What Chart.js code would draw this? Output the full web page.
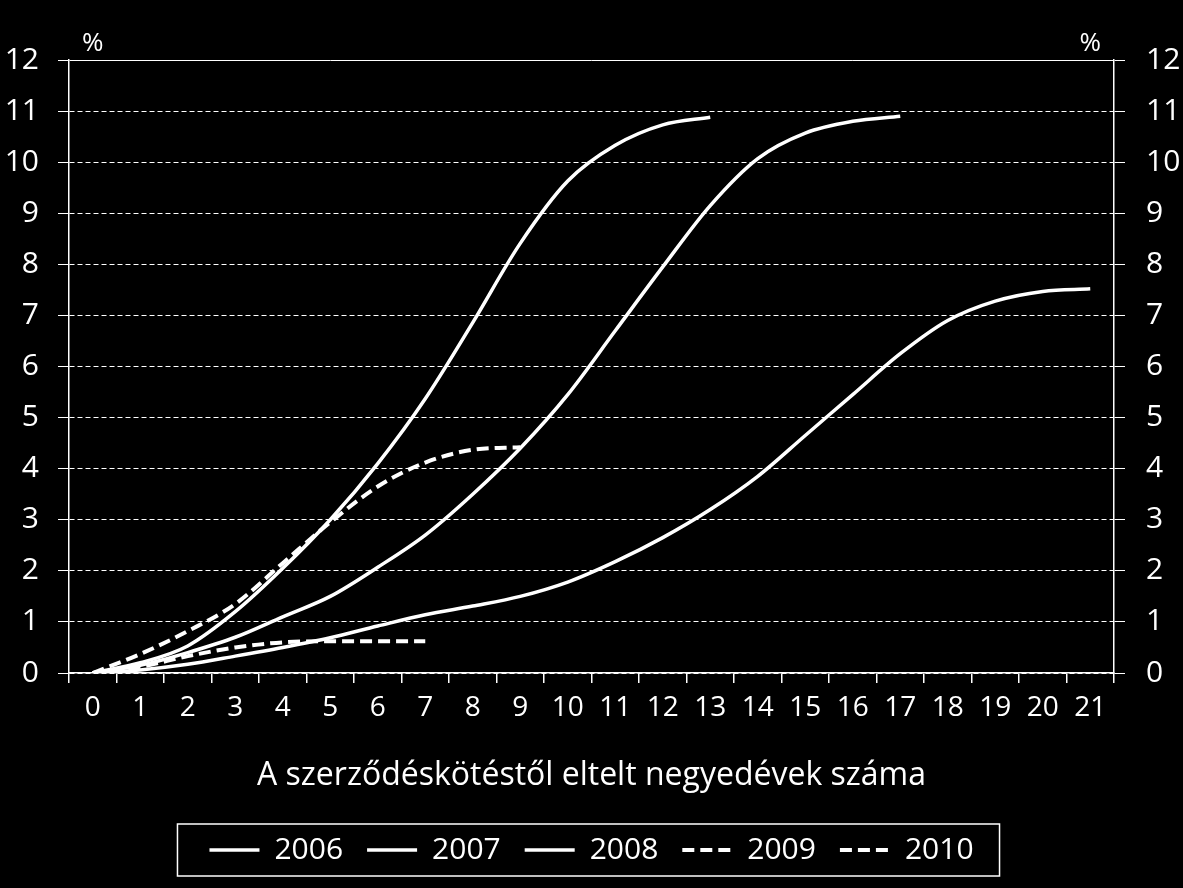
<!DOCTYPE html>
<html>
<head>
<meta charset="utf-8">
<script src="https://cdn.jsdelivr.net/npm/chart.js@4.4.1/dist/chart.umd.min.js"></script>
<style>
  html, body { margin: 0; padding: 0; background: #000; }
  #wrap { width: 1183px; height: 888px; position: relative; }
</style>
</head>
<body>
<div id="wrap"><canvas id="chart"></canvas></div>
<script>
const quarters = ["0", "1", "2", "3", "4", "5", "6", "7", "8", "9", "10",
  "11", "12", "13", "14", "15", "16", "17", "18", "19", "20", "21"];
const yTicks = [0, 1, 2, 3, 4, 5, 6, 7, 8, 9, 10, 11, 12];

const s2006 = [0, 0.2, 0.53, 1.2, 2.05, 3.0, 4.1, 5.37, 6.86, 8.41, 9.63, 10.33, 10.73, 10.88];
const s2007 = [0, 0.15, 0.4, 0.7, 1.1, 1.5, 2.07, 2.7, 3.5, 4.4, 5.45, 6.7, 7.95, 9.15,
  10.07, 10.57, 10.8, 10.9];
const s2008 = [0, 0.06, 0.17, 0.33, 0.5, 0.69, 0.92, 1.14, 1.31, 1.5, 1.78, 2.18, 2.65, 3.2,
  3.85, 4.65, 5.45, 6.25, 6.9, 7.28, 7.47, 7.52];
const s2009 = [0, 0.37, 0.82, 1.35, 2.15, 2.95, 3.65, 4.12, 4.37, 4.42];
const s2010 = [0, 0.12, 0.33, 0.5, 0.6, 0.62, 0.62, 0.62];

const seriesNames = ["2006", "2007", "2008", "2009", "2010"];
const FONT = "'Open Sans', 'DejaVu Sans', sans-serif";

function line(label, data, dashed) {
  return {
    label: label,
    data: data,
    borderColor: "#fff",
    backgroundColor: "#fff",
    borderWidth: dashed ? 4 : 3.5,
    borderDash: dashed ? [12, 6] : [],
    pointRadius: 0,
    cubicInterpolationMode: "monotone",
    fill: false
  };
}

// frame around the legend + the two "%" unit labels
const extras = {
  id: "extras",
  afterDraw(chart) {
    const ctx = chart.ctx;
    const boxes = chart.legend.legendHitBoxes;
    if (boxes && boxes.length) {
      const first = boxes[0], last = boxes[boxes.length - 1];
      const cy = first.top + first.height / 2;
      ctx.save();
      ctx.strokeStyle = "#fff";
      ctx.lineWidth = 1.5;
      ctx.strokeRect(first.left - 32, cy - 26, last.left + last.width - first.left + 58, 52);
      ctx.restore();
    }
    const x = chart.scales.x;
    ctx.save();
    ctx.fillStyle = "#fff";
    ctx.font = "26px " + FONT;
    ctx.textAlign = "center";
    ctx.textBaseline = "middle";
    ctx.fillText("%", x.getPixelForValue(0), 44);
    ctx.fillText("%", x.getPixelForValue(quarters.length - 1), 44);
    ctx.restore();
  }
};

new Chart(document.getElementById("chart"), {
  type: "line",
  data: {
    labels: quarters,
    datasets: [
      line(seriesNames[0], s2006, false),
      line(seriesNames[1], s2007, false),
      line(seriesNames[2], s2008, false),
      line(seriesNames[3], s2009, true),
      line(seriesNames[4], s2010, true)
    ]
  },
  options: {
    responsive: true,
    maintainAspectRatio: false,
    animation: false,
    layout: { padding: { top: 60, bottom: 13, left: 0, right: 0 } },
    plugins: {
      tooltip: { enabled: false },
      legend: {
        position: "bottom",
        labels: {
          color: "#fff",
          font: { family: FONT, size: 30, lineHeight: 1 },
          usePointStyle: true,
          pointStyleWidth: 50,
          padding: 24,
          generateLabels(chart) {
            return chart.data.datasets.map((ds, i) => ({
              text: ds.label,
              fillStyle: "#fff",
              strokeStyle: "#fff",
              fontColor: "#fff",
              lineWidth: ds.borderWidth,
              lineDash: ds.borderDash,
              pointStyle: "line",
              datasetIndex: i
            }));
          }
        }
      }
    },
    scales: {
      x: {
        type: "category",
        offset: true,
        afterFit(scale) { scale.height = 138; },
        grid: { offset: true, drawOnChartArea: false, color: "#fff", tickLength: 10, lineWidth: 1.5 },
        border: { color: "#fff", width: 1.5 },
        ticks: { color: "#fff", font: { family: FONT, size: 28 }, padding: 8, maxRotation: 0, autoSkip: false },
        title: {
          display: true,
          text: "A szerződéskötéstől eltelt negyedévek száma",
          color: "#fff",
          font: { family: FONT, size: 32 },
          padding: { top: 0, bottom: 16 }
        }
      },
      y: {
        position: "left",
        min: 0, max: 12,
        afterFit(scale) { scale.width = 69; },
        afterBuildTicks(scale) { scale.ticks = yTicks.map(v => ({ value: v })); },
        grid: {
          color: "#fff",
          lineWidth: 1,
          tickLength: 11
        },
        border: {
          color: "#fff",
          width: 1.5,
          dash: (ctx) => (ctx.tick && ctx.tick.value === 12 ? [] : [5, 3])
        },
        ticks: { color: "#fff", font: { family: FONT, size: 30 }, padding: 19 }
      },
      y2: {
        position: "right",
        min: 0, max: 12,
        afterFit(scale) { scale.width = 69; },
        afterBuildTicks(scale) { scale.ticks = yTicks.map(v => ({ value: v })); },
        grid: { drawOnChartArea: false, color: "#fff", tickLength: 11 },
        border: { color: "#fff", width: 1.5 },
        ticks: { color: "#fff", font: { family: FONT, size: 30 }, padding: 21 }
      }
    }
  },
  plugins: [extras]
});
</script>
</body>
</html>
